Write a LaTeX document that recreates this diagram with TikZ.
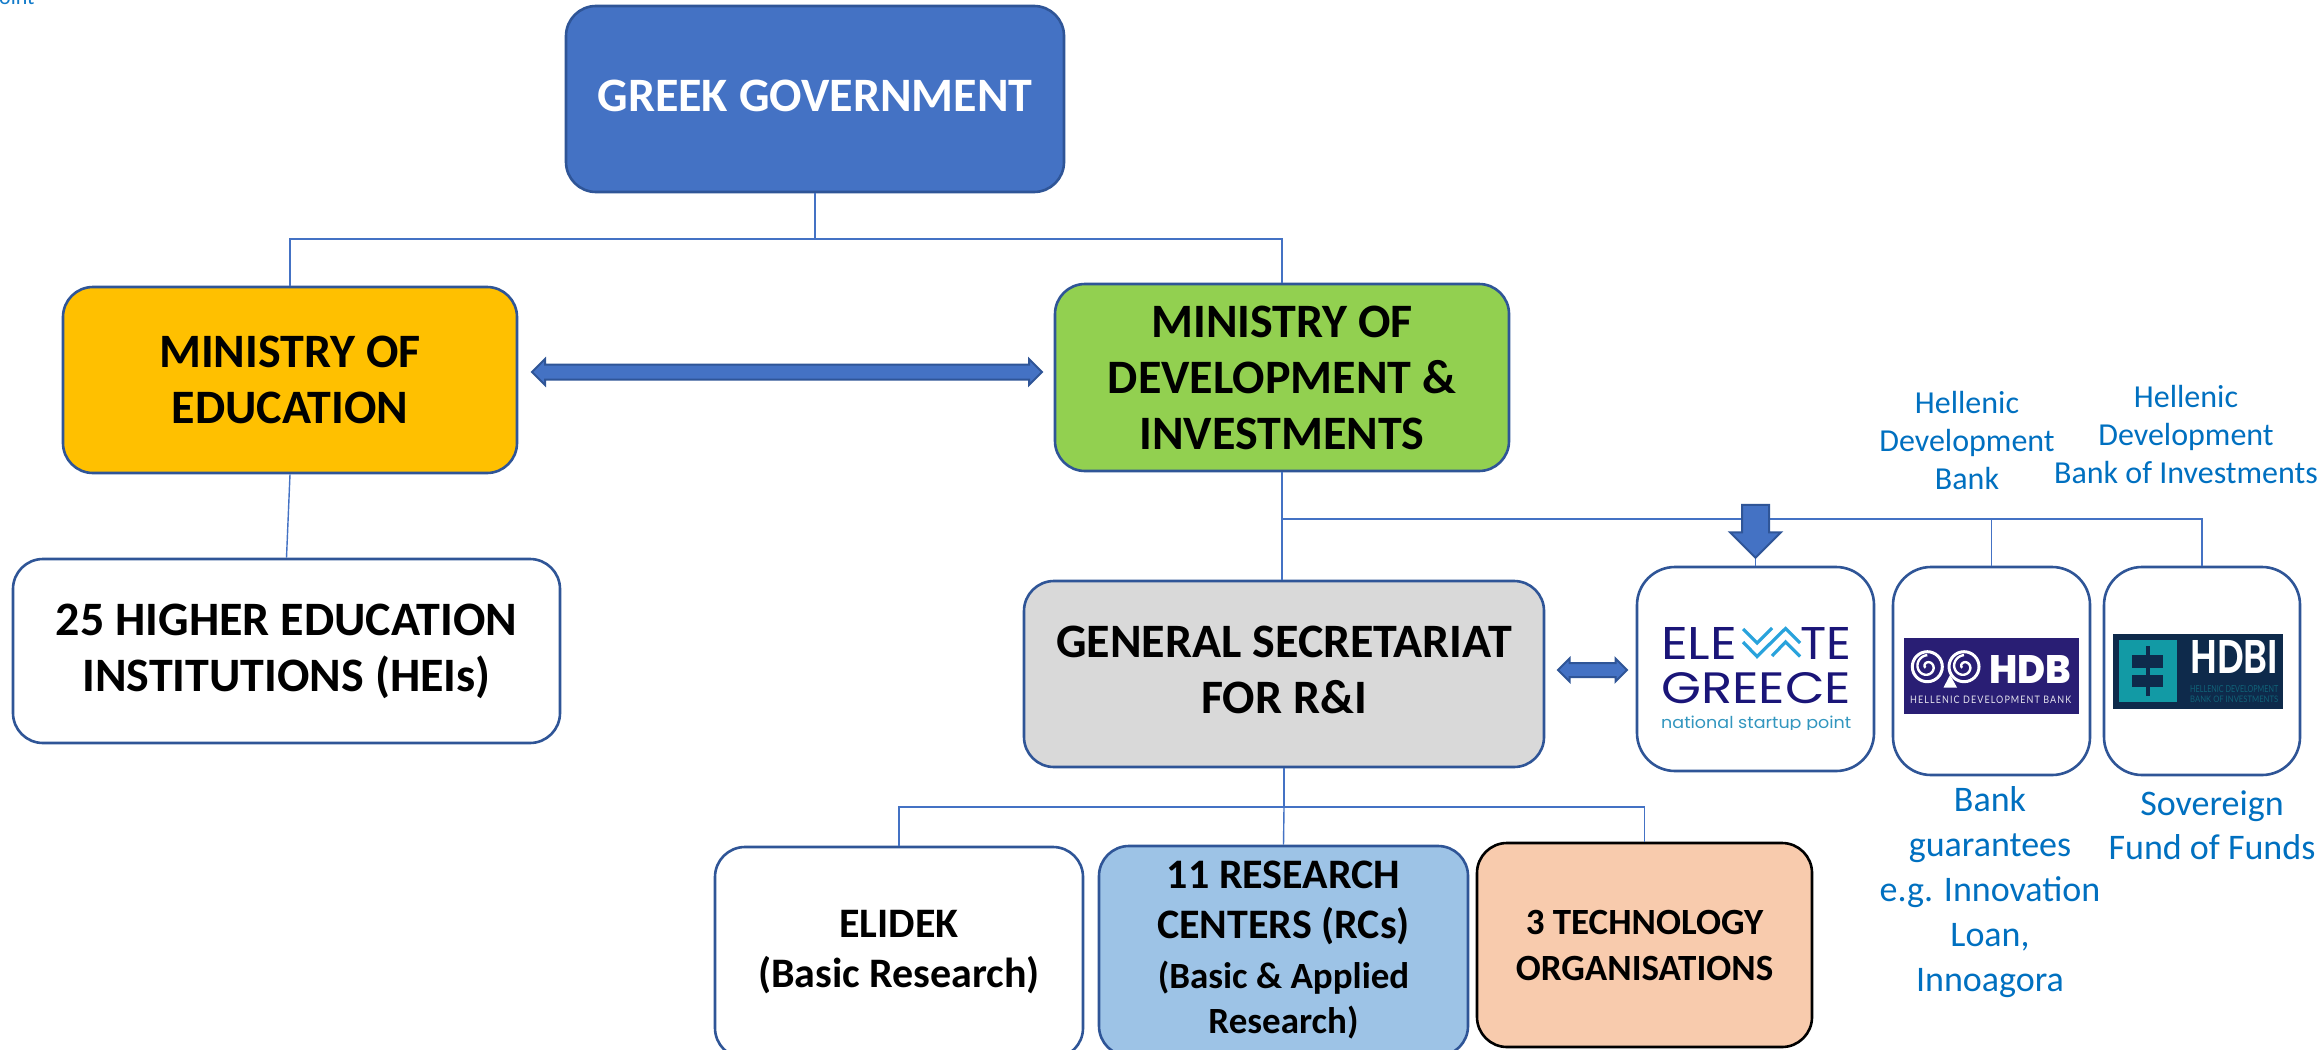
\documentclass[tikz,border=0pt]{standalone}
\usepackage{fontspec}
\usepackage{graphicx}
\setmainfont{Carlito}
\newfontfamily\logofont{Poppins}
\newfontfamily\logoblack{Poppins ExtraBold}
\newfontfamily\logosemi{Poppins SemiBold}
\newfontfamily\logomed{Lato}
\newfontfamily\logospaced[LetterSpace=12]{Lato}
\usetikzlibrary{shapes.arrows}
\definecolor{edge}{HTML}{2F5597}
\definecolor{accent}{HTML}{4472C4}
\definecolor{bluetext}{HTML}{0070C0}
\definecolor{navy}{HTML}{1A1578}
\definecolor{hdbfill}{HTML}{291E74}
\definecolor{hdbifill}{HTML}{0E2A4B}
\definecolor{tealb}{HTML}{129AA5}
\newcommand{\fsz}[2]{\fontsize{#1pt}{#2pt}\selectfont}
\tikzset{
  orgbox/.style={draw=edge,line width=2.6pt,rounded corners=30pt,inner sep=0pt,align=center,font=\bfseries\fsz{48}{56}},
  orgtext/.style={inner sep=0pt,align=center,font=\bfseries\fsz{48}{56}},
  conn/.style={draw=accent,line width=1.4pt},
  bluelabel/.style={text=bluetext,align=center,inner sep=0pt},
  blockarrow/.style={draw=edge,fill=accent,line width=2pt,inner sep=0pt},
  fit text/.style={inner sep=0pt,anchor=north west}
}
% name, x0,y0,x1,y1, extra options, text
\newcommand{\orgnode}[7]{%
  \pgfmathsetlengthmacro{\bw}{#4-#2}\pgfmathsetlengthmacro{\bh}{#5-#3}%
  \node[orgbox,minimum width=\bw,minimum height=\bh,#6] (#1) at ({(#2+#4)/2},{(#3+#5)/2}) {#7};}
\begin{document}
\begin{tikzpicture}[x=1pt,y=-1pt]
\useasboundingbox (0,0) rectangle (2317,1049);
\fill[white] (0,0) rectangle (2317,1049);
\node[anchor=base west,inner sep=0pt,text=cyan!60!blue,font=\fsz{22}{28}] (frag) at (-1,5) {oint};
% boxes
\orgnode{gov}{566}{6}{1064}{192}{fill=accent}{}
\node[orgtext,text=white] (govt) at (815,96) {GREEK GOVERNMENT};
\orgnode{edu}{63}{287}{517}{473}{fill={rgb,255:red,255;green,192;blue,0}}{MINISTRY OF\\EDUCATION}
\orgnode{mod}{1055}{284}{1509}{471}{fill={rgb,255:red,146;green,208;blue,80}}{MINISTRY OF\\DEVELOPMENT \&\\INVESTMENTS}
\orgnode{hei}{13}{559}{560}{743}{fill=white}{25 HIGHER EDUCATION\\INSTITUTIONS (HEIs)}
\orgnode{gs}{1024}{581}{1544}{767}{fill={rgb,255:red,217;green,217;blue,217}}{}
\node[orgtext] (gst) at (1284,670) {GENERAL SECRETARIAT\\FOR R\&I};
\orgnode{elev}{1637}{567}{1874}{771}{fill=white,rounded corners=38pt}{}
\orgnode{hdb}{1893}{567}{2090}{775}{fill=white,rounded corners=38pt}{}
\orgnode{hdbi}{2104}{567}{2300}{775}{fill=white,rounded corners=38pt}{}
\orgnode{elidek}{715}{847}{1083}{1058}{fill=white,font=\bfseries\fsz{42}{50}}{ELIDEK\\(Basic Research)}
\orgnode{rc}{1099}{846}{1468}{1056}{fill={rgb,255:red,157;green,195;blue,230}}{}
\node[orgtext,font=\bfseries\fsz{42}{50}] (rct) at (1283.5,903) {11 RESEARCH\\CENTERS (RCs)};
\node[orgtext,font=\bfseries\fsz{37}{45}] (rcs) at (1283.5,1000) {(Basic \& Applied\\Research)};
\orgnode{tech}{1477}{843}{1812}{1047}{draw=black,fill={rgb,255:red,248;green,203;blue,173},font=\bfseries\fsz{37}{46}}{3 TECHNOLOGY\\ORGANISATIONS}
% connectors
\coordinate (govj) at (815,239);
\coordinate (busj) at (1282,519);
\coordinate (gsj) at (1284,807);
\draw[conn] (gov.south) -- (govj) -| (edu.north);
\draw[conn] (gov.south) -- (govj) -| (mod.north);
\draw[conn] (edu.south) -- (hei.north);
\draw[conn] (mod.south) -- (mod.south |- gs.north);
\draw[conn] (busj) -| (elev.north);
\draw[conn] (busj) -| (hdb.north);
\draw[conn] (busj) -| (hdbi.north);
\draw[conn] (gs.south) -- (gsj) -| (elidek.north);
\draw[conn] (gsj) -- (rc.north);
\draw[conn] (gsj) -| (tech.north);
% block arrows
\node[double arrow,blockarrow,minimum height=510pt,minimum width=24pt,double arrow head extend=5.5pt] (edumod) at (787,372) {\rule{0pt}{13pt}};
\node[double arrow,blockarrow,minimum height=69pt,minimum width=21pt,double arrow head extend=4.5pt] (gselev) at (1592.5,670) {\rule{0pt}{12pt}};
\node[single arrow,blockarrow,rotate=-90,minimum height=53pt,minimum width=49pt,single arrow head extend=12pt] (downarr) at (1755.5,524.5) {\rule{0pt}{25pt}};
% blue labels
\node[bluelabel,font=\fsz{32}{38}] (l1) at (1967,441) {Hellenic\\Development\\Bank};
\node[bluelabel,font=\fsz{32}{38}] (l2) at (2186,434.5) {Hellenic\\Development\\Bank of Investments};
\node[bluelabel,font=\fsz{36}{45}] (l3) at (1990,892.5) {Bank\\guarantees\\e.g. Innovation\\Loan,\\Innoagora};
\node[bluelabel,font=\fsz{36}{44}] (l4) at (2212,825) {Sovereign\\Fund of Funds};
% ELEVATE logo
\begin{scope}
\clip (1655,620) rectangle (1858,729);
\node[fit text,text=navy] (e1) at (1661,627) {\resizebox{76pt}{32pt}{\logofont ELE}};
\node[fit text,text=navy] (e2) at (1800,627) {\resizebox{51pt}{32pt}{\logofont TE}};
\node[fit text,text=navy] (e3) at (1661,672) {\resizebox{190pt}{31pt}{\logofont GREECE}};
\node[fit text,text=cyan!50!teal] (e4) at (1661,716) {\resizebox{190pt}{12.5pt}{\logofont national startup point}};
\end{scope}
\begin{scope}[draw={rgb,255:red,41;green,163;blue,220},line width=3.2pt,line join=miter]
\draw (1743,629) -- (1757,643) -- (1772,628);
\draw (1743,642) -- (1757,656.5) -- (1785.5,628.5) -- (1800,643);
\draw (1772,656) -- (1785.5,642) -- (1800,656.5);
\end{scope}
% HDB logo
\fill[hdbfill] (1904,638) rectangle (2079,714);
\foreach \cx in {1927.3,1964}{
  \draw[white,line width=3pt] (\cx,666.7) circle (15pt);
  \draw[white,line width=2.4pt,domain=0:480,samples=50,smooth] plot ({\cx+(2+\x*0.02)*cos(\x+150)},{666.7+(2+\x*0.02)*sin(\x+150)});
}
\fill[white] (1943.5,687.5) -- (1957,687.5) -- (1950,675) -- cycle;
\node[fit text,text=white] (h1) at (1989,655) {\resizebox{82pt}{28pt}{\logoblack HDB}};
\node[fit text,text=white!88!hdbfill] (h2) at (1910,696) {\resizebox{161pt}{7.5pt}{\logospaced HELLENIC DEVELOPMENT BANK}};
% HDBI logo
\fill[hdbifill] (2113,634) rectangle (2283,709);
\fill[tealb] (2119,640) rectangle (2177,702);
\fill[hdbifill] (2146,646) rectangle (2150,696);
\fill[hdbifill] (2132,655) rectangle (2163,668);
\fill[hdbifill] (2132,675) rectangle (2163,687);
\node[fit text,text=white] (i1) at (2190,640) {\resizebox{88pt}{33pt}{\logosemi HDBI}};
\node[fit text,text=tealb!50!hdbifill] (i2) at (2190,685) {\resizebox{88pt}{7pt}{\logomed HELLENIC DEVELOPMENT}};
\node[fit text,text=tealb!50!hdbifill] (i3) at (2190,696) {\resizebox{88pt}{6.5pt}{\logomed BANK OF INVESTMENTS}};
\end{tikzpicture}
\end{document}
